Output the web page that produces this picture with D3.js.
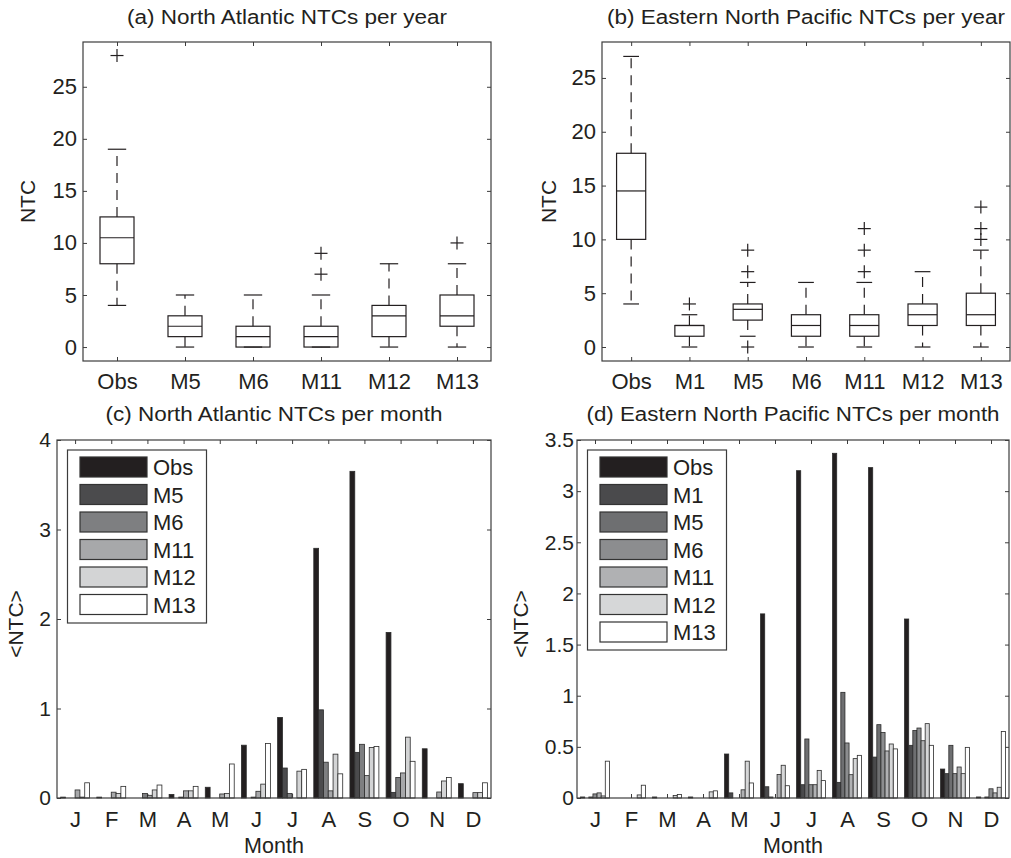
<!DOCTYPE html>
<html>
<head>
<meta charset="utf-8">
<script src="https://cdn.jsdelivr.net/npm/d3@7"></script>
<style>
  html, body { margin: 0; padding: 0; background: #fff; }
  svg text { font-family: "Liberation Sans", Arial, Helvetica, sans-serif; fill: #231f20; }
</style>
</head>
<body>
<svg id="chart" width="1011" height="858"></svg>
<script>
// ---------------- DATA ----------------
// (a) North Atlantic NTCs per year (boxplot statistics)
const naBoxCategories = ["Obs", "M5", "M6", "M11", "M12", "M13"];
const naBoxLow    = [4, 0, 0, 0, 0, 0];
const naBoxQ1     = [8, 1, 0, 0, 1, 2];
const naBoxMedian = [10.5, 2, 1, 1, 3, 3];
const naBoxQ3     = [12.5, 3, 2, 2, 4, 5];
const naBoxHigh   = [19, 5, 5, 5, 8, 8];
const naBoxOutliers = [[28], [], [], [9, 7], [], [10]];

// (b) Eastern North Pacific NTCs per year (boxplot statistics)
const enpBoxCategories = ["Obs", "M1", "M5", "M6", "M11", "M12", "M13"];
const enpBoxLow    = [4, 0, 1, 0, 0, 0, 0];
const enpBoxQ1     = [10, 1, 2.5, 1, 1, 2, 2];
const enpBoxMedian = [14.5, 2, 3.5, 2, 2, 3, 3];
const enpBoxQ3     = [18, 2, 4, 3, 3, 4, 5];
const enpBoxHigh   = [27, 3, 6, 6, 6, 7, 9];
const enpBoxOutliers = [[], [4], [9, 7, 0], [], [11, 9, 7], [], [13, 11, 10]];

const boxYTicks = [0, 5, 10, 15, 20, 25];

// Months
const monthLabels = ["J", "F", "M", "A", "M", "J", "J", "A", "S", "O", "N", "D"];

// (c) North Atlantic NTCs per month
const naSeries = ["Obs", "M5", "M6", "M11", "M12", "M13"];
const naObs = [0.01, 0.01, 0, 0.04, 0.12, 0.59, 0.90, 2.79, 3.65, 1.85, 0.55, 0.16];
const naM5  = [0, 0, 0, 0, 0, 0, 0.335, 0.985, 0.51, 0.063, 0, 0];
const naM6  = [0, 0, 0.05, 0.01, 0, 0.01, 0.05, 0.40, 0.60, 0.23, 0, 0];
const naM11 = [0.09, 0.065, 0.03, 0.08, 0.045, 0.075, 0, 0.08, 0.25, 0.28, 0.067, 0.06];
const naM12 = [0.01, 0.05, 0.09, 0.08, 0.05, 0.155, 0.30, 0.49, 0.565, 0.68, 0.19, 0.06];
const naM13 = [0.17, 0.13, 0.145, 0.13, 0.38, 0.61, 0.32, 0.27, 0.576, 0.41, 0.23, 0.17];
const naYTicks = [0, 1, 2, 3, 4];

// (d) Eastern North Pacific NTCs per month
const enpSeries = ["Obs", "M1", "M5", "M6", "M11", "M12", "M13"];
const enpObs = [0.01, 0, 0.01, 0.01, 0.43, 1.80, 3.20, 3.37, 3.23, 1.75, 0.283, 0.01];
const enpM1  = [0, 0, 0, 0, 0.05, 0.11, 0.13, 0.153, 0.40, 0.515, 0.238, 0];
const enpM5  = [0.01, 0, 0, 0, 0, 0.01, 0.577, 1.033, 0.717, 0.66, 0.515, 0.01];
const enpM6  = [0.04, 0, 0, 0, 0, 0, 0.13, 0.538, 0.64, 0.684, 0.238, 0.09];
const enpM11 = [0.05, 0, 0, 0, 0.08, 0.23, 0.13, 0.228, 0.46, 0.56, 0.303, 0.05];
const enpM12 = [0.02, 0.03, 0.025, 0.06, 0.36, 0.32, 0.27, 0.385, 0.528, 0.727, 0.238, 0.105];
const enpM13 = [0.36, 0.125, 0.035, 0.07, 0.147, 0.12, 0.17, 0.417, 0.48, 0.515, 0.495, 0.65];
const enpYTicks = [0, 0.5, 1, 1.5, 2, 2.5, 3, 3.5];

// Colours
const naColors  = ["#231f20", "#4b4b4d", "#7e7f81", "#a7a8aa", "#d3d4d5", "#ffffff"];
const enpColors = ["#231f20", "#4a4a4c", "#6e6f71", "#8c8d8f", "#b0b1b3", "#d6d7d8", "#ffffff"];

// ---------------- DRAWING ----------------
const svg = d3.select("#chart");
svg.append("rect").attr("width", 1011).attr("height", 858).attr("fill", "#fff");

const FRAME = "#3c3c3c";
const INK = "#231f20";
const FONT = '"Liberation Sans", Arial, Helvetica, sans-serif';

function styleAxis(g, fontSize) {
  g.select(".domain").remove();
  g.selectAll(".tick line").attr("stroke", FRAME).attr("stroke-width", 1);
  g.selectAll("text").attr("font-size", fontSize).attr("fill", INK).style("font-family", FONT);
}

function drawFrame(L, T, R, B) {
  svg.append("rect").attr("x", L).attr("y", T).attr("width", R - L).attr("height", B - T)
    .attr("fill", "none").attr("stroke", FRAME).attr("stroke-width", 1.2);
}

function title(cx, y, len, txt) {
  svg.append("text").attr("x", cx).attr("y", y).attr("text-anchor", "middle")
    .attr("font-size", 20).attr("textLength", len).attr("lengthAdjust", "spacingAndGlyphs").text(txt);
}

function boxPanel(p) {
  const { L, T, R, B } = p;
  const x = d3.scalePoint().domain(p.cats).range([L, R]).padding(0.5);
  const y = d3.scaleLinear().domain(p.yDomain).range([B, T]);
  const step = x.step();
  const bw = step * 0.5, cw = step * 0.27;

  const ax = svg.append("g").attr("transform", `translate(${L},0)`)
    .call(d3.axisLeft(y).tickValues(boxYTicks).tickSize(-4).tickPadding(6).tickFormat(d3.format("d")));
  styleAxis(ax, 22);
  const axr = svg.append("g").attr("transform", `translate(${R},0)`)
    .call(d3.axisRight(y).tickValues(boxYTicks).tickSize(-4).tickFormat(""));
  styleAxis(axr, 22);
  const axb = svg.append("g").attr("transform", `translate(0,${B})`)
    .call(d3.axisBottom(x).tickSize(-4).tickPadding(12));
  styleAxis(axb, 22);
  const axt = svg.append("g").attr("transform", `translate(0,${T})`)
    .call(d3.axisTop(x).tickSize(-4).tickFormat(""));
  styleAxis(axt, 22);
  drawFrame(L, T, R, B);

  const g = svg.append("g").attr("stroke", INK).attr("stroke-width", 1.2).attr("fill", "none");
  p.cats.forEach((c, i) => {
    const cx = x(c);
    g.append("line").attr("x1", cx).attr("x2", cx).attr("y1", y(p.q3[i])).attr("y2", y(p.hi[i]))
      .attr("stroke-dasharray", "10,7");
    g.append("line").attr("x1", cx).attr("x2", cx).attr("y1", y(p.q1[i])).attr("y2", y(p.lo[i]))
      .attr("stroke-dasharray", "10,7");
    g.append("line").attr("x1", cx - cw / 2).attr("x2", cx + cw / 2).attr("y1", y(p.hi[i])).attr("y2", y(p.hi[i]));
    g.append("line").attr("x1", cx - cw / 2).attr("x2", cx + cw / 2).attr("y1", y(p.lo[i])).attr("y2", y(p.lo[i]));
    g.append("rect").attr("x", cx - bw / 2).attr("width", bw)
      .attr("y", y(p.q3[i])).attr("height", y(p.q1[i]) - y(p.q3[i]));
    g.append("line").attr("x1", cx - bw / 2).attr("x2", cx + bw / 2).attr("y1", y(p.med[i])).attr("y2", y(p.med[i]));
    p.out[i].forEach(v => {
      const yy = y(v), s = 6.5;
      g.append("line").attr("x1", cx - s).attr("x2", cx + s).attr("y1", yy).attr("y2", yy);
      g.append("line").attr("x1", cx).attr("x2", cx).attr("y1", yy - s).attr("y2", yy + s);
    });
  });

  title((L + R) / 2, 24, p.titleLen, p.title);
  svg.append("text").attr("transform", `translate(${p.ylabX},${(T + B) / 2}) rotate(-90)`)
    .attr("text-anchor", "middle").attr("font-size", 21).text("NTC");
}

function barPanel(p) {
  const { L, T, R, B } = p;
  const idx = d3.range(monthLabels.length);
  const x0 = d3.scaleBand().domain(idx).range([L, R]).paddingInner(0.2).paddingOuter(0.1);
  const x1 = d3.scaleBand().domain(p.series).range([0, x0.bandwidth()]).padding(0);
  const y = d3.scaleLinear().domain(p.yDomain).range([B, T]);
  const centers = d3.scalePoint().domain(idx).range([L, R]).padding(0.5);

  const ax = svg.append("g").attr("transform", `translate(${L},0)`)
    .call(d3.axisLeft(y).tickValues(p.yTicks).tickSize(-4).tickPadding(p.yPad).tickFormat(d => String(d)));
  styleAxis(ax, 21);
  const axr = svg.append("g").attr("transform", `translate(${R},0)`)
    .call(d3.axisRight(y).tickValues(p.yTicks).tickSize(-4).tickFormat(""));
  styleAxis(axr, 21);
  const axb = svg.append("g").attr("transform", `translate(0,${B})`)
    .call(d3.axisBottom(centers).tickSize(-4).tickPadding(13).tickFormat(i => monthLabels[i]));
  styleAxis(axb, 22);
  const axt = svg.append("g").attr("transform", `translate(0,${T})`)
    .call(d3.axisTop(centers).tickSize(-4).tickFormat(""));
  styleAxis(axt, 22);

  const gBars = svg.append("g");
  p.series.forEach((s, si) => {
    gBars.append("g").selectAll("rect").data(p.values[si]).join("rect")
      .attr("x", (d, i) => x0(i) + x1(s))
      .attr("width", x1.bandwidth())
      .attr("y", d => y(d))
      .attr("height", d => y(0) - y(d))
      .attr("fill", p.colors[si])
      .attr("stroke", "#2a2a2a").attr("stroke-width", 0.8)
      .attr("display", d => d > 0 ? null : "none");
  });
  drawFrame(L, T, R, B);

  const lg = svg.append("g");
  lg.append("rect").attr("x", p.leg.x).attr("y", p.leg.y).attr("width", p.leg.w).attr("height", p.leg.h)
    .attr("fill", "#fff").attr("stroke", FRAME).attr("stroke-width", 1.2);
  p.series.forEach((s, si) => {
    const yy = p.leg.y + 7 + si * 27.5;
    lg.append("rect").attr("x", p.leg.x + 12.5).attr("y", yy).attr("width", 67).attr("height", 20)
      .attr("fill", p.colors[si]).attr("stroke", "#333").attr("stroke-width", 1.2);
    lg.append("text").attr("x", p.leg.x + 85.5).attr("y", yy + 18).attr("font-size", 22).text(s);
  });

  title((L + R) / 2, 421, p.titleLen, p.title);
  svg.append("text").attr("transform", `translate(${p.ylabX},${(T + B) / 2 + 5}) rotate(-90)`)
    .attr("text-anchor", "middle").attr("font-size", 21).text("<NTC>");
  svg.append("text").attr("x", (L + R) / 2).attr("y", 853).attr("text-anchor", "middle")
    .attr("font-size", 21.5).text("Month");
}

boxPanel({
  L: 83, T: 42, R: 491, B: 361, yDomain: [-1.34, 29.3],
  cats: naBoxCategories, lo: naBoxLow, q1: naBoxQ1, med: naBoxMedian, q3: naBoxQ3, hi: naBoxHigh, out: naBoxOutliers,
  title: "(a) North Atlantic NTCs per year", titleLen: 320, ylabX: 35
});
boxPanel({
  L: 602, T: 42, R: 1010, B: 361, yDomain: [-1.3, 28.34],
  cats: enpBoxCategories, lo: enpBoxLow, q1: enpBoxQ1, med: enpBoxMedian, q3: enpBoxQ3, hi: enpBoxHigh, out: enpBoxOutliers,
  title: "(b) Eastern North Pacific NTCs per year", titleLen: 398, ylabX: 556
});
barPanel({
  L: 57, T: 440, R: 491, B: 798, yDomain: [0, 4], yTicks: naYTicks, yPad: 6,
  series: naSeries, values: [naObs, naM5, naM6, naM11, naM12, naM13], colors: naColors,
  leg: { x: 67.5, y: 450, w: 139, h: 173 },
  title: "(c) North Atlantic NTCs per month", titleLen: 337, ylabX: 23
});
barPanel({
  L: 577, T: 440, R: 1009, B: 798, yDomain: [0, 3.5], yTicks: enpYTicks, yPad: 3,
  series: enpSeries, values: [enpObs, enpM1, enpM5, enpM6, enpM11, enpM12, enpM13], colors: enpColors,
  leg: { x: 587.5, y: 450, w: 139, h: 200 },
  title: "(d) Eastern North Pacific NTCs per month", titleLen: 413, ylabX: 528
});
</script>
</body>
</html>
